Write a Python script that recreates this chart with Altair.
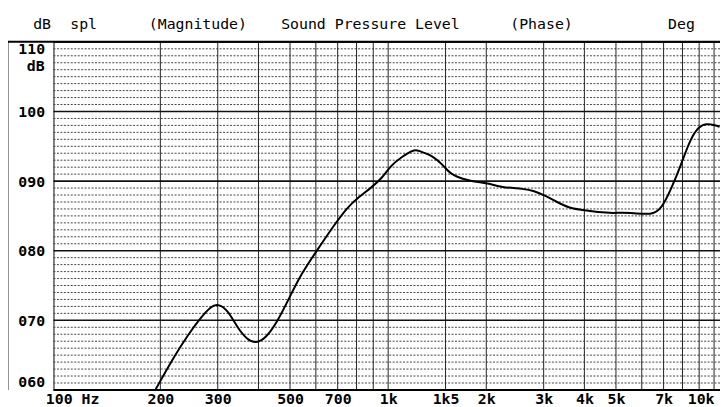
import altair as alt
import pandas as pd

# ---- data ----
freq_hz = [193, 219, 243, 267, 286, 300, 322, 345, 370, 392, 421, 457, 496, 538,
           604, 676, 748, 811, 890, 961, 1017, 1095, 1179, 1208, 1254, 1316, 1366,
           1471, 1545, 1748, 1928, 2024, 2221, 2615, 2804, 3000, 3295, 3567, 3865,
           4442, 4873, 5540, 6447, 6893, 7390, 7928, 8444, 8990, 9520, 10090, 10400]
spl_db = [60.0, 64.6, 67.9, 70.5, 72.0, 72.4, 71.5, 68.9, 67.2, 66.7, 67.4, 69.8,
          73.1, 76.5, 80.0, 83.4, 86.2, 87.7, 89.1, 90.5, 92.2, 93.4, 94.3, 94.5,
          94.3, 93.9, 93.6, 92.4, 91.0, 90.1, 89.8, 89.7, 89.1, 88.9, 88.6, 88.0,
          87.0, 86.2, 85.9, 85.5, 85.4, 85.5, 85.1, 86.0, 88.9, 92.4, 96.0, 97.9,
          98.3, 98.0, 97.8]

grid_freqs = [200, 300, 400, 500, 600, 700, 800, 900, 1000, 1500, 2000, 3000,
              4000, 5000, 6000, 7000, 8000, 9000, 10000]
major_db = [70, 80, 90, 100]
minor_db = [v for v in range(61, 110) if v % 10 != 0]
x_tick_values = [100, 200, 300, 500, 700, 1000, 1500, 2000, 3000, 4000, 5000, 7000, 10000]
x_tick_labels = ["100 Hz", "200", "300", "500", "700", "1k", "1k5", "2k", "3k",
                 "4k", "5k", "7k", "10k"]
y_tick_values = [60, 70, 80, 90, 100, 110]
header_texts = ["dB", "spl", "(Magnitude)", "Sound Pressure Level", "(Phase)", "Deg"]
unit_text = "dB"

# ---- layout ----
W, H = 674, 352
header_x = [-11.5, 30.5, 146, 320.5, 493.5, 635]
MONO = "DejaVu Sans Mono"

x_scale = alt.Scale(type="log", domain=[94, 10428], nice=False)
y_scale = alt.Scale(domain=[60, 110], nice=False, zero=False)

label_expr = ""
for v, t in zip(x_tick_values, x_tick_labels):
    label_expr += f"datum.value == {v} ? '{t}' : "
label_expr += "''"

x_axis = alt.Axis(
    values=x_tick_values, labelExpr=label_expr, grid=False, ticks=False,
    tickSize=0, domain=False, labelFont=MONO, labelFontWeight="bold",
    labelFontSize=15, labelColor="black", labelPadding=2, labelFlush=7,
    labelOffset={"condition": {"test": "datum.value == 100", "value": 10}, "value": 0},
    title=None)
y_axis = alt.Axis(
    values=y_tick_values, format="03d", grid=False, ticks=False, tickSize=0,
    domain=False, labelFont=MONO, labelFontWeight="bold", labelFontSize=15,
    labelColor="black", labelPadding=9, labelFlush=True, title=None)

curve_df = pd.DataFrame({"freq": freq_hz, "spl": spl_db})
one = alt.Data(values=[{}])

minor = alt.Chart(pd.DataFrame({"spl": minor_db})).mark_rule(
    color="#444", strokeWidth=1, strokeDash=[2, 1.5]
).encode(y=alt.Y("spl:Q", scale=y_scale, axis=y_axis))

vert = alt.Chart(pd.DataFrame({"freq": grid_freqs})).mark_rule(
    color="#222", strokeWidth=1
).encode(x=alt.X("freq:Q", scale=x_scale, axis=x_axis))

major = alt.Chart(pd.DataFrame({"spl": major_db})).mark_rule(
    color="#111", strokeWidth=1.6
).encode(y=alt.Y("spl:Q", scale=y_scale, axis=y_axis))

curve = alt.Chart(curve_df).mark_line(
    color="black", strokeWidth=2, interpolate="basis", clip=True
).encode(
    x=alt.X("freq:Q", scale=x_scale, axis=x_axis),
    y=alt.Y("spl:Q", scale=y_scale, axis=y_axis),
)

frame_left = alt.Chart(one).mark_rule(color="#222", strokeWidth=1).encode(
    x=alt.value(-46), y=alt.value(0), y2=alt.value(H))
frame_top = alt.Chart(one).mark_rule(color="black", strokeWidth=2).encode(
    x=alt.value(-46), x2=alt.value(W), y=alt.value(0))
frame_bottom = alt.Chart(one).mark_rule(color="black", strokeWidth=2).encode(
    x=alt.value(0), x2=alt.value(W), y=alt.value(H))

texts = []
for t, xp in zip(header_texts, header_x):
    texts.append(
        alt.Chart(alt.Data(values=[{"t": t}])).mark_text(
            font=MONO, fontSize=15, color="black", align="center", baseline="middle"
        ).encode(text="t:N", x=alt.value(xp), y=alt.value(-18))
    )
unit = alt.Chart(alt.Data(values=[{"t": unit_text}])).mark_text(
    font=MONO, fontSize=15, fontWeight="bold", color="black", align="right",
    baseline="middle"
).encode(text="t:N", x=alt.value(-9), y=alt.value(24))

chart = alt.layer(
    minor, vert, major, curve, frame_left, frame_top, frame_bottom, unit, *texts
).properties(
    width=W, height=H,
    autosize=alt.AutoSizeParams(type="none"),
    padding={"left": 46, "top": 32, "right": 0, "bottom": 15},
    background="white",
).configure_view(stroke="black", strokeWidth=1)

chart.save("out.html", embed_options={"renderer": "svg", "actions": False})
